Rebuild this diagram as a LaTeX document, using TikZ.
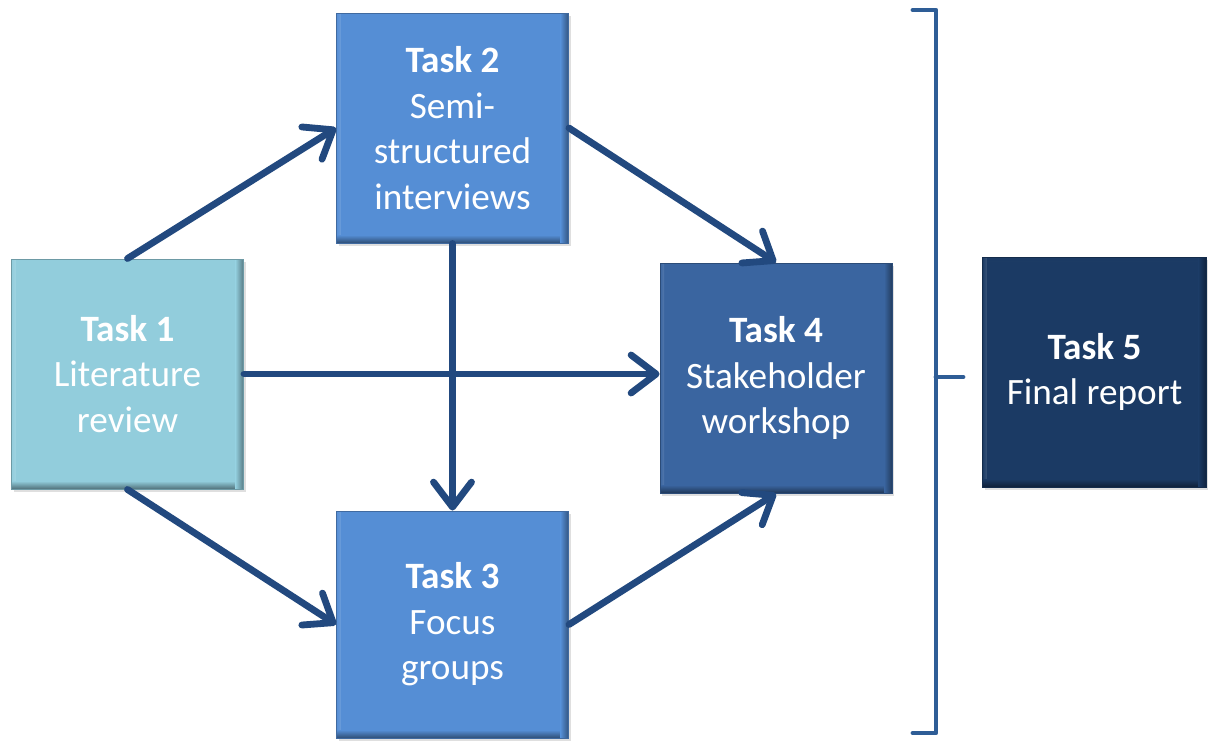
\documentclass[tikz,border=0pt]{standalone}
\usepackage{fontspec}
\setmainfont{Carlito}
\usetikzlibrary{arrows.meta,shadows,calc}
\definecolor{cone}{HTML}{92CDDC}
\definecolor{ctwo}{HTML}{558ED5}
\definecolor{cfour}{HTML}{3A65A0}
\definecolor{cfive}{HTML}{1B3A64}
\definecolor{arrcol}{HTML}{22497F}
\definecolor{brcol}{HTML}{2E5D96}
\newcommand\boxfont{\fontsize{18.6pt}{22.8pt}\selectfont}
\tikzset{
  tbox/.style={rectangle, fill=#1, draw=#1!75!black, line width=0.5pt,
    minimum width=116pt, minimum height=115pt, inner sep=0pt,
    text=white, align=center, font=\boxfont,
    drop shadow={shadow xshift=1pt, shadow yshift=-1.5pt, opacity=0.25},
    path picture={
      \shade[bottom color=#1!85!white, top color=#1]
        ([yshift=-2pt]path picture bounding box.north west) rectangle (path picture bounding box.north east);
      \shade[right color=#1!88!white, left color=#1]
        (path picture bounding box.south west) rectangle ([xshift=2pt]path picture bounding box.north west);
      \shade[top color=#1, bottom color=#1!55!black]
        ([yshift=4pt]path picture bounding box.south west) rectangle (path picture bounding box.south east);
      \shade[left color=#1, right color=#1!60!black]
        ([xshift=-4pt]path picture bounding box.south east) rectangle (path picture bounding box.north east);
    }},
  arr/.style={draw=arrcol, line width=3.4pt, line cap=round,
    -{Straight Barb[length=12.5pt, width=19pt, round]}},
  brk/.style={draw=brcol, line width=2.4pt, line cap=round, line join=round},
}
\begin{document}
\begin{tikzpicture}[x=0.5pt, y=-0.5pt]
\useasboundingbox[fill=white] (0,0) rectangle (1208,740);
\node[tbox=cone] (t1) at (127.5,374) {\textbf{Task 1}\\Literature\\review};
\node[tbox=ctwo] (t2) at (452.5,128) {\textbf{Task 2}\\Semi-\\structured\\interviews};
\node[tbox=ctwo, minimum height=113.5pt] (t3) at (452.5,624.5) {\textbf{Task 3}\\Focus\\groups};
\node[tbox=cfour] (t4) at (776,378) {\textbf{Task 4}\\Stakeholder\\workshop};
\node[tbox=cfive, minimum width=112pt] (t5) at (1094.5,372) {\textbf{Task 5}\\Final report};

\draw[arr] (t1.north) -- (t2.west);
\draw[arr] (t1.south) -- (t3.west);
\draw[arr] (t2.south) -- (t3.north);
\draw[arr] (t1.east) -- (t1.east -| t4.west);
\draw[arr] (t2.east) -- (t4.north);
\draw[arr] (t3.east) -- (t4.south);

\coordinate (btl) at (913,10);
\coordinate (btr) at (936,10);
\coordinate (bbr) at (936,733);
\coordinate (bbl) at (913,733);
\coordinate (bmid) at (936,377);
\coordinate (btip) at (963,377);
\draw[brk] (btl) -- (btr) -- (bbr) -- (bbl);
\draw[brk] (bmid) -- (btip);
\end{tikzpicture}
\end{document}
